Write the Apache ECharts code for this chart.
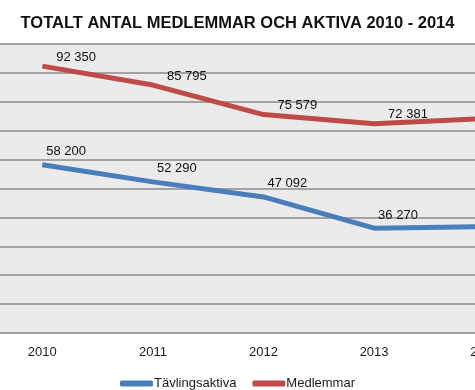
<!DOCTYPE html>
<html><head><meta charset="utf-8">
<script src="https://cdn.jsdelivr.net/npm/echarts@6/dist/echarts.min.js"></script>
<style>html,body{margin:0;padding:0;background:#fff}#c{width:475px;height:390px}</style>
</head><body><div id="c"></div>
<script>
const titleText = 'TOTALT ANTAL MEDLEMMAR OCH AKTIVA 2010 - 2014';
const years = ['2010', '2011', '2012', '2013', '2014'];
const seriesNames = ['Tävlingsaktiva', 'Medlemmar'];
const tavlingsaktiva = [58200, 52290, 47092, 36270, 36850];
const medlemmar = [92350, 85795, 75579, 72381, 74200];
const yMin = 0, yMax = 100000, yStep = 10000;

const fmt = v => String(v).replace(/\B(?=(\d{3})+(?!\d))/g, ' ');
const chart = echarts.init(document.getElementById('c'), null, {renderer: 'canvas'});
const font = 'Liberation Sans';
chart.setOption({
  animation: false,
  backgroundColor: '#fff',
  title: {
    text: titleText, left: 'center', top: 10,
    textStyle: {fontFamily: font, fontWeight: 'bold', fontSize: 16.5, color: '#111'}
  },
  grid: {left: -13, top: 44, width: 553, height: 289, show: true, backgroundColor: '#ebebeb', borderWidth: 0,
         containLabel: false, outerBoundsMode: 'none'},
  xAxis: {
    type: 'category', data: years, boundaryGap: true,
    axisLine: {lineStyle: {color: '#a0a0a0', width: 2}},
    axisTick: {length: 5, lineStyle: {color: '#8c8c8c', width: 1.5}},
    axisLabel: {color: '#1a1a1a', fontFamily: font, fontSize: 13, margin: 13}
  },
  yAxis: {
    type: 'value', min: yMin, max: yMax, interval: yStep,
    axisLabel: {show: false}, axisLine: {show: false}, axisTick: {show: false},
    splitLine: {lineStyle: {color: '#a3a3a3', width: 2}}
  },
  legend: {
    top: 372, left: 'center', itemWidth: 33, itemHeight: 6, itemGap: 16,
    icon: 'roundRect',
    textStyle: {fontFamily: font, fontSize: 13, color: '#1a1a1a', padding: [0, 0, 0, -4]},
    data: seriesNames
  },
  series: [
    {
      name: seriesNames[0], type: 'line', data: tavlingsaktiva, showSymbol: true, symbol: 'circle', symbolSize: 0,
      color: '#4a7ebb', lineStyle: {width: 5, color: '#4a7ebb'},
      label: {show: true, position: 'right', distance: 0, offset: [4, -13], color: '#111', fontFamily: font, fontSize: 13, formatter: p => fmt(p.value)}
    },
    {
      name: seriesNames[1], type: 'line', data: medlemmar, showSymbol: true, symbol: 'circle', symbolSize: 0,
      color: '#be4b48', lineStyle: {width: 5, color: '#be4b48'},
      label: {show: true, position: 'right', distance: 0, offset: [14, -9], color: '#111', fontFamily: font, fontSize: 13, formatter: p => fmt(p.value)}
    }
  ]
});
</script></body></html>
